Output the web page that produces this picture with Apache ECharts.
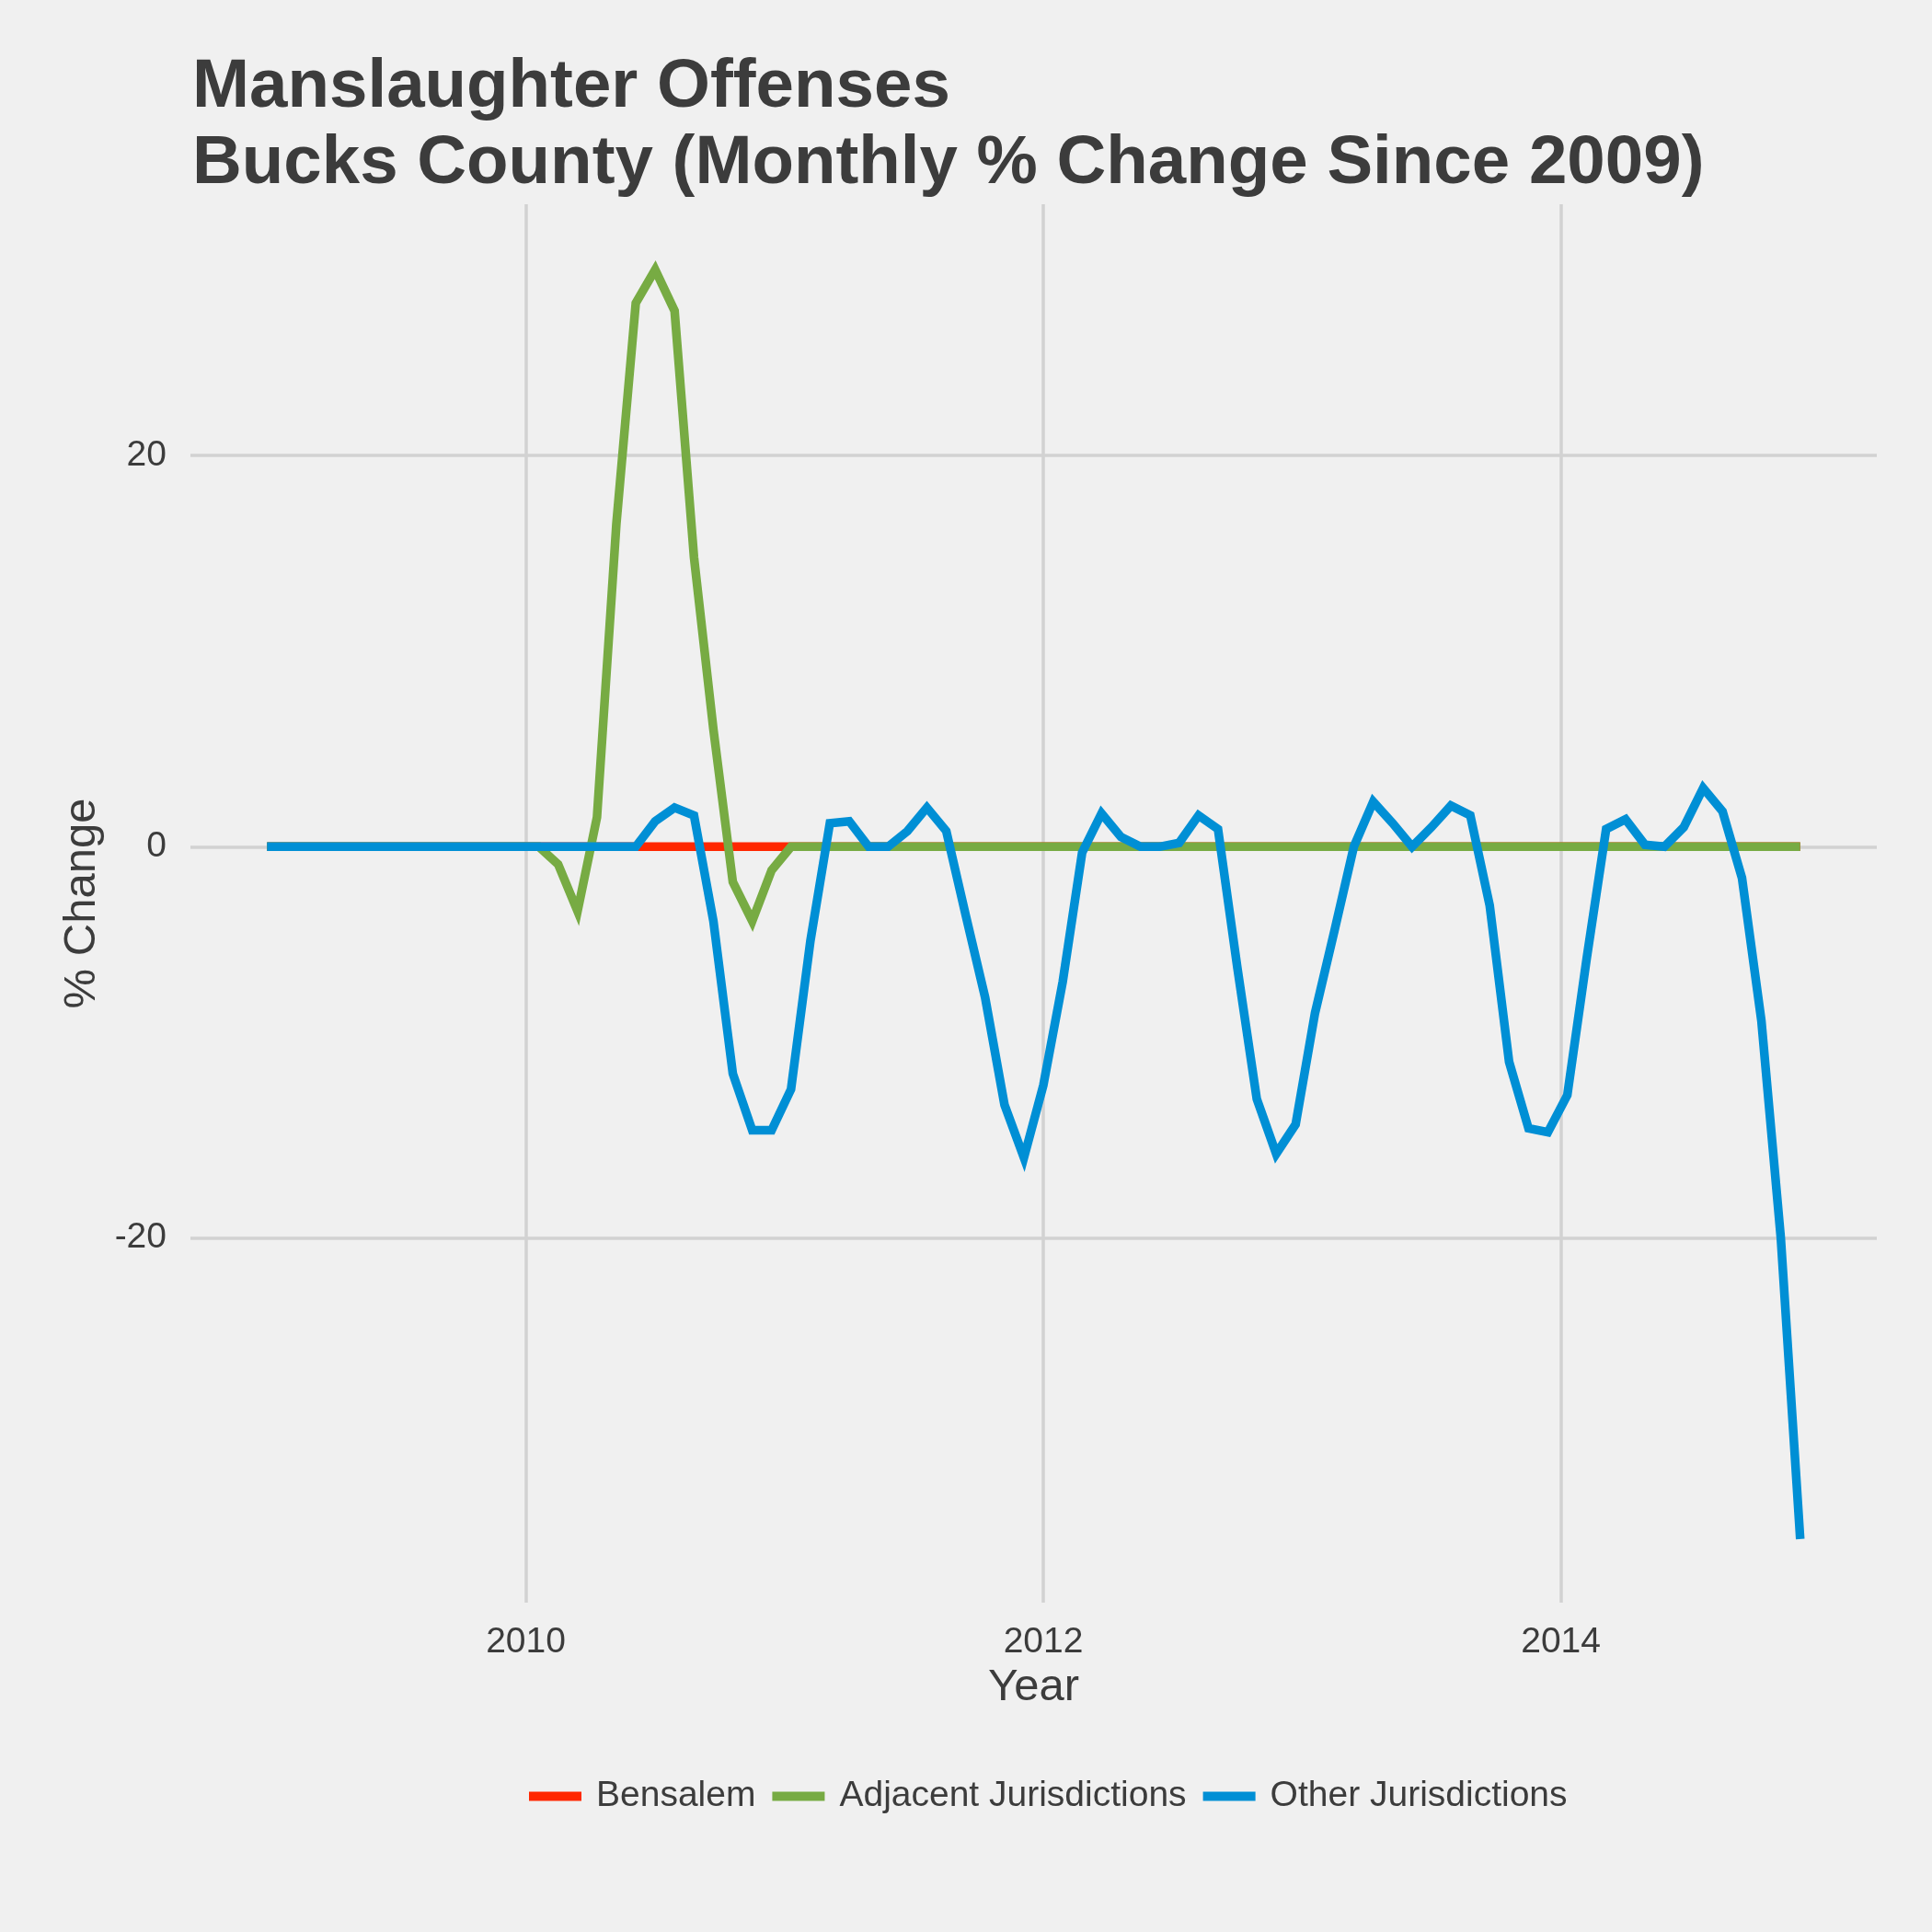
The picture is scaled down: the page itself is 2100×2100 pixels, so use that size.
<!DOCTYPE html>
<html>
<head>
<meta charset="UTF-8">
<script src="https://cdn.jsdelivr.net/npm/echarts@6/dist/echarts.min.js"></script>
<style>
  html, body { margin: 0; padding: 0; background: #F0F0F0; }
  #main { width: 2100px; height: 2100px; }
</style>
</head>
<body>
<div id="main"></div>
<script>
// series names (legend order)
var seriesNames = ['Bensalem', 'Adjacent Jurisdictions', 'Other Jurisdictions'];
var seriesColors = ['#FF2700', '#77AB43', '#008FD5'];

// observations are on a regular grid starting Jan 2009
var periodStart = 2009;
var periodStep = 0.075;

// monthly % change (80 periods)
var bensalem = [
  0, 0, 0, 0, 0, 0, 0, 0, 0, 0,
  0, 0, 0, 0, 0, 0, 0, 0, 0, 0,
  0, 0, 0, 0, 0, 0, 0, 0, 0, 0,
  0, 0, 0, 0, 0, 0, 0, 0, 0, 0,
  0, 0, 0, 0, 0, 0, 0, 0, 0, 0,
  0, 0, 0, 0, 0, 0, 0, 0, 0, 0,
  0, 0, 0, 0, 0, 0, 0, 0, 0, 0,
  0, 0, 0, 0, 0, 0, 0, 0, 0, 0
];
var adjacent = [
  0, 0, 0, 0, 0, 0, 0, 0, 0, 0,
  0, 0, 0, 0, 0, -0.9, -3.3, 1.5, 16.5, 27.8,
  29.5, 27.4, 14.8, 6.0, -1.8, -3.8, -1.2, 0, 0, 0,
  0, 0, 0, 0, 0, 0, 0, 0, 0, 0,
  0, 0, 0, 0, 0, 0, 0, 0, 0, 0,
  0, 0, 0, 0, 0, 0, 0, 0, 0, 0,
  0, 0, 0, 0, 0, 0, 0, 0, 0, 0,
  0, 0, 0, 0, 0, 0, 0, 0, 0, 0
];
var other = [
  0, 0, 0, 0, 0, 0, 0, 0, 0, 0,
  0, 0, 0, 0, 0, 0, 0, 0, 0, 0,
  1.3, 2.0, 1.6, -3.8, -11.6, -14.5, -14.5, -12.4, -4.8, 1.2,
  1.3, 0, 0, 0.8, 2.0, 0.8, -3.5, -7.7, -13.2, -15.9,
  -12.2, -6.9, -0.3, 1.7, 0.5, 0, 0, 0.2, 1.6, 0.9,
  -6.2, -12.9, -15.7, -14.2, -8.5, -4.3, 0, 2.3, 1.2, 0,
  1.0, 2.1, 1.6, -3.0, -11.0, -14.4, -14.6, -12.7, -5.7, 0.9,
  1.4, 0.1, 0, 1.0, 3.0, 1.8, -1.6, -8.9, -20.0, -35.4
];

// tick labels
var xTicks = [2010, 2012, 2014];
var yTicks = [-20, 0, 20];

var toPairs = function (values) {
  var res = [];
  for (var i = 0; i < values.length; i++) {
    res.push([periodStart + i * periodStep, values[i]]);
  }
  return res;
};

var textColor = '#3C3C3C';
var font = 'Liberation Sans, Arial, sans-serif';

var myChart = echarts.init(document.getElementById('main'));

var allValues = [bensalem, adjacent, other];
var series = [];
for (var s = 0; s < seriesNames.length; s++) {
  series.push({
    name: seriesNames[s],
    type: 'line',
    data: toPairs(allValues[s]),
    showSymbol: false,
    symbol: 'none',
    lineStyle: { color: seriesColors[s], width: 9.5, cap: 'butt', join: 'miter' },
    itemStyle: { color: seriesColors[s] },
    z: 2 + s
  });
}

var option = {
  animation: false,
  backgroundColor: '#F0F0F0',
  textStyle: { fontFamily: font },
  title: {
    text: 'Manslaughter Offenses\nBucks County (Monthly % Change Since 2009)',
    left: 204,
    top: 49,
    textStyle: {
      color: textColor,
      fontFamily: font,
      fontWeight: 'bold',
      fontSize: 74.5,
      lineHeight: 83
    }
  },
  legend: {
    data: seriesNames,
    left: 570,
    top: 1928,
    icon: 'rect',
    itemWidth: 57,
    itemHeight: 10,
    itemGap: 18,
    textStyle: { color: textColor, fontSize: 39, fontFamily: font, padding: [0, 0, 0, 11] }
  },
  grid: {
    left: 207,
    right: 60,
    top: 222,
    bottom: 358,
    containLabel: false,
    outerBoundsMode: 'none'
  },
  xAxis: {
    type: 'value',
    min: 2008.704,
    max: 2015.221,
    name: 'Year',
    nameLocation: 'middle',
    nameGap: 63,
    nameTextStyle: { color: textColor, fontSize: 49, fontFamily: font },
    axisLine: { show: false },
    axisTick: { show: false, customValues: xTicks },
    axisLabel: {
      customValues: xTicks,
      formatter: function (v) { return String(v); },
      color: textColor,
      fontSize: 39,
      fontFamily: font,
      margin: 24
    },
    splitLine: { show: true, lineStyle: { color: '#D2D2D2', width: 3.5 } }
  },
  yAxis: {
    type: 'value',
    min: -38.65,
    max: 32.85,
    name: '% Change',
    nameLocation: 'middle',
    nameGap: 86,
    nameTextStyle: { color: textColor, fontSize: 49, fontFamily: font },
    axisLine: { show: false },
    axisTick: { show: false, customValues: yTicks },
    axisLabel: {
      customValues: yTicks,
      formatter: function (v) { return String(v); },
      color: textColor,
      fontSize: 39,
      fontFamily: font,
      margin: 26
    },
    splitLine: { show: true, lineStyle: { color: '#D2D2D2', width: 3.5 } }
  },
  series: series
};

myChart.setOption(option);
</script>
</body>
</html>
